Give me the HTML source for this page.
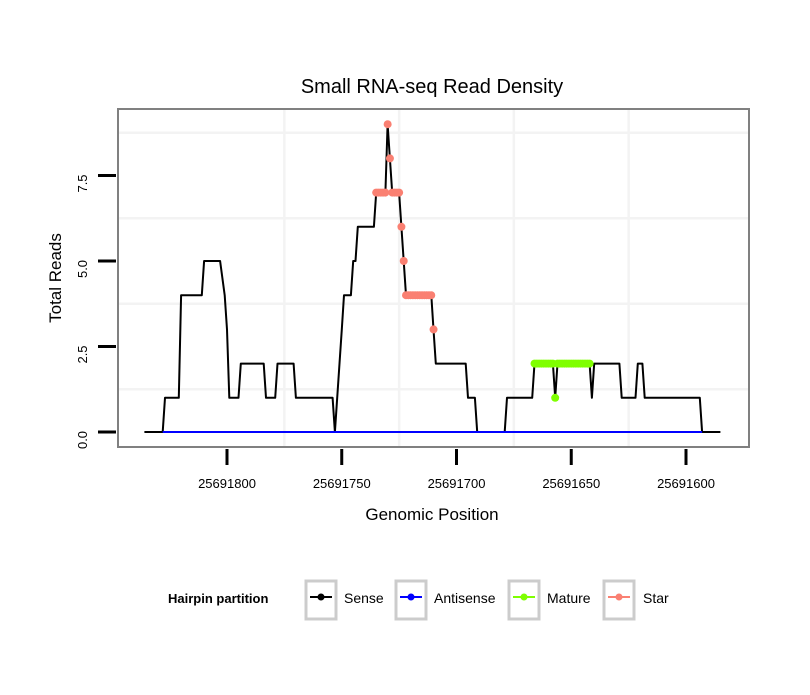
<!DOCTYPE html>
<html><head><meta charset="utf-8"><style>
body{margin:0;background:#fff;}
svg text{font-family:"Liberation Sans",Arial,sans-serif;}
</style></head><body>
<svg id="chart" width="810" height="690" viewBox="0 0 810 690" xmlns="http://www.w3.org/2000/svg">
<rect x="0" y="0" width="810" height="690" fill="#fff"/>
<text x="432" y="93" font-size="20" text-anchor="middle" fill="#000">Small RNA-seq Read Density</text>
<g id="grid"></g>
<g id="series"></g>
<rect x="118" y="109" width="631" height="338" fill="none" stroke="#808080" stroke-width="2"/>
<g id="axes"></g>
<text x="432" y="520" font-size="17" text-anchor="middle">Genomic Position</text>
<text transform="translate(61,278) rotate(-90)" font-size="17" text-anchor="middle">Total Reads</text>
<g>
<text x="168" y="603" font-size="13" font-weight="bold">Hairpin partition</text>
<g><rect x="306" y="581" width="30" height="38" fill="#fff" stroke="#cccccc" stroke-width="3"/><line x1="310" y1="597" x2="332" y2="597" stroke="#000" stroke-width="2"/><circle cx="321" cy="597" r="3.5" fill="#000"/><text x="344" y="603" font-size="14">Sense</text></g>
<g><rect x="396" y="581" width="30" height="38" fill="#fff" stroke="#cccccc" stroke-width="3"/><line x1="400" y1="597" x2="422" y2="597" stroke="#0000ff" stroke-width="2"/><circle cx="411" cy="597" r="3.5" fill="#0000ff"/><text x="434" y="603" font-size="14">Antisense</text></g>
<g><rect x="509" y="581" width="30" height="38" fill="#fff" stroke="#cccccc" stroke-width="3"/><line x1="513" y1="597" x2="535" y2="597" stroke="#7fff00" stroke-width="2"/><circle cx="524" cy="597" r="3.5" fill="#7fff00"/><text x="547" y="603" font-size="14">Mature</text></g>
<g><rect x="604" y="581" width="30" height="38" fill="#fff" stroke="#cccccc" stroke-width="3"/><line x1="608" y1="597" x2="630" y2="597" stroke="#fa8072" stroke-width="2"/><circle cx="619" cy="597" r="3.5" fill="#fa8072"/><text x="643" y="603" font-size="14">Star</text></g>
</g>
</svg>
<script>
const xTicks = [25691800, 25691750, 25691700, 25691650, 25691600];
const yTicks = [0, 2.5, 5, 7.5];
const xMinor = [25691775, 25691725, 25691675, 25691625];
const yMinor = [1.25, 3.75, 6.25, 8.75];
const sensePos = [25691836,25691828,25691827,25691821,25691820,25691811,25691810,25691803,25691801,25691800,25691799,25691795,25691794,25691784,25691783,25691779,25691778,25691771,25691770,25691754,25691753,25691752,25691751,25691750,25691749,25691746,25691745,25691744,25691743,25691736,25691735,25691731,25691730,25691729,25691728,25691725,25691724,25691723,25691722,25691711,25691710,25691709,25691696,25691695,25691692,25691691,25691679,25691678,25691667,25691666,25691658,25691657,25691656,25691642,25691641,25691640,25691629,25691628,25691622,25691621,25691619,25691618,25691594,25691593,25691585];
const senseVal = [0,0,1,1,4,4,5,5,4,3,1,1,2,2,1,1,2,2,1,1,0,1,2,3,4,4,5,5,6,6,7,7,9,8,7,7,6,5,4,4,3,2,2,1,1,0,0,1,1,2,2,1,2,2,1,2,2,1,1,2,2,1,1,0,0];
const antisensePos = [25691828, 25691593];
const antisenseVal = [0, 0];
const starPos = [25691735,25691734,25691733,25691732,25691731,25691730,25691729,25691728,25691727,25691726,25691725,25691724,25691723,25691722,25691721,25691720,25691719,25691718,25691717,25691716,25691715,25691714,25691713,25691712,25691711,25691710];
const starVal = [7,7,7,7,7,9,8,7,7,7,7,6,5,4,4,4,4,4,4,4,4,4,4,4,4,3];
const maturePos = [25691666,25691665,25691664,25691663,25691662,25691661,25691660,25691659,25691658,25691657,25691656,25691655,25691654,25691653,25691652,25691651,25691650,25691649,25691648,25691647,25691646,25691645,25691644,25691643,25691642];
const matureVal = [2,2,2,2,2,2,2,2,2,1,2,2,2,2,2,2,2,2,2,2,2,2,2,2,2];

const NS = 'http://www.w3.org/2000/svg';
function xs(p){ return 227 + (25691800 - p) * 2.295; }
function ys(v){ return 432 - v * 34.2; }
function mk(tag, attrs, parent){ const e = document.createElementNS(NS, tag); for (const k in attrs) e.setAttribute(k, attrs[k]); parent.appendChild(e); return e; }
const grid = document.getElementById('grid');
const series = document.getElementById('series');
const axes = document.getElementById('axes');
mk('rect', {x:119, y:110, width:629, height:336, fill:'#fff'}, grid);
xMinor.forEach(p => {
  const l = mk('line', {x1:xs(p), x2:xs(p), y1:110, y2:446, stroke:'#f3f3f3', 'stroke-width':2.5}, grid);
  
  
});
yMinor.forEach(v => {
  const l = mk('line', {x1:119, x2:748, y1:ys(v), y2:ys(v), stroke:'#f3f3f3', 'stroke-width':2.5}, grid);
  
  
});
function poly(pos, val, color, name){
  const pts = pos.map((p,i) => xs(p).toFixed(1) + ',' + ys(val[i]).toFixed(1)).join(' ');
  const l = mk('polyline', {points:pts, fill:'none', stroke:color, 'stroke-width':2, 'stroke-linejoin':'round'}, series);
  
  
}
poly(sensePos, senseVal, '#000', 'sense-line');
poly(antisensePos, antisenseVal, '#0000ff', 'antisense-line');
starPos.forEach((p,i) => {
  const c = mk('circle', {cx:xs(p), cy:ys(starVal[i]), r:4, fill:'#fa8072'}, series);
  
  
});
maturePos.forEach((p,i) => {
  const c = mk('circle', {cx:xs(p), cy:ys(matureVal[i]), r:4, fill:'#7fff00'}, series);
  
  
});
xTicks.forEach(p => {
  const t = mk('line', {x1:xs(p), x2:xs(p), y1:449, y2:465, stroke:'#000', 'stroke-width':3}, axes);
  
  
  const tx = mk('text', {x:xs(p), y:488, 'font-size':13, 'text-anchor':'middle'}, axes);
  tx.textContent = String(p);
  
  
});
yTicks.forEach(v => {
  const t = mk('line', {x1:98, x2:116, y1:ys(v), y2:ys(v), stroke:'#000', 'stroke-width':3}, axes);
  
  
  const tx = mk('text', {transform:'translate(87,' + (ys(v) + 8) + ') rotate(-90)', 'font-size':13, 'text-anchor':'middle'}, axes);
  tx.textContent = v.toFixed(1);
  
  
});
</script>
</body></html>
